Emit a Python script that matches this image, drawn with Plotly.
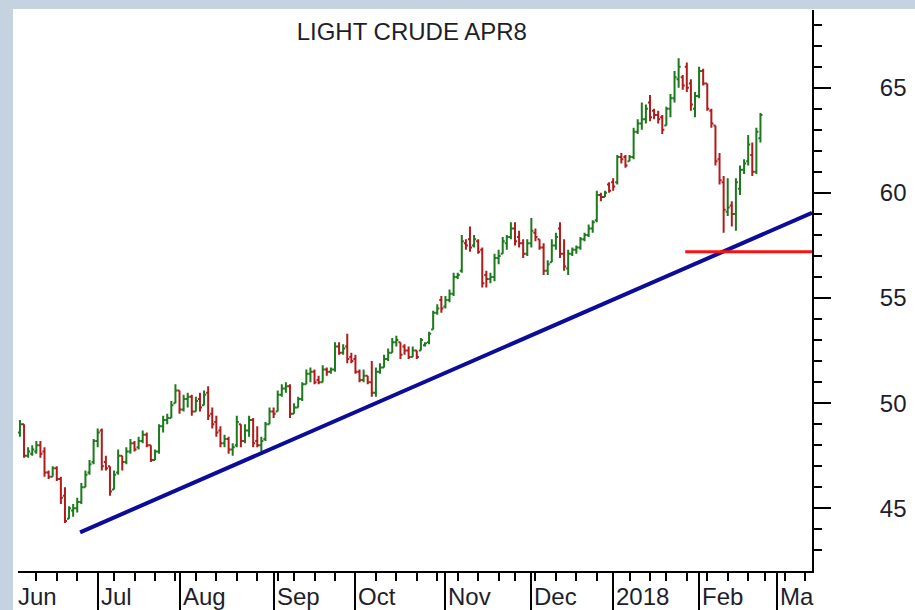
import pandas as pd
import plotly.graph_objects as go

# ---------------- data ----------------
first_date = "2017-06-06"
holidays = ["2017-07-04", "2017-09-04", "2017-11-23", "2017-12-25",
            "2018-01-01", "2018-01-15", "2018-02-19"]

opens = [48.6, 49.0, 47.5, 47.6, 47.7, 48.0, 47.7, 46.7, 46.5, 46.9,
         46.4, 45.6, 44.5, 44.9, 45.0, 45.3, 46.0, 46.7, 47.2, 48.2,
         48.7, 47.2, 47.0, 45.9, 46.7, 47.5, 47.2, 47.7, 48.1, 47.9,
         48.2, 48.5, 48.0, 47.3, 47.7, 48.9, 49.2, 49.3, 50.0, 50.6,
         49.7, 50.2, 50.3, 49.6, 50.2, 49.9, 50.5, 49.5, 49.1, 48.7,
         48.1, 48.3, 47.8, 48.0, 49.0, 48.2, 48.7, 49.2, 48.2, 48.0,
         48.3, 49.0, 49.6, 49.6, 50.4, 50.7, 50.8, 49.5, 49.8, 50.2,
         50.9, 51.4, 51.5, 51.1, 51.0, 51.6, 51.5, 51.6, 52.7, 52.4,
         52.7, 52.2, 52.1, 51.5, 51.1, 51.3, 51.0, 50.5, 51.5, 51.7,
         52.1, 52.4, 52.9, 52.9, 52.7, 52.5, 52.2, 52.5, 52.5, 52.75,
         52.9, 53.5, 54.3, 54.9, 54.6, 54.9, 55.2, 56.0, 56.3, 57.6,
         57.8, 57.5, 57.7, 57.3, 56.1, 55.9, 56.0, 56.9, 57.1, 57.6,
         57.9, 58.3, 57.9, 57.6, 57.1, 57.6, 58.1, 57.8, 57.4, 56.3,
         56.7, 57.5, 58.3, 57.1, 56.4, 57.1, 57.3, 57.4, 57.8, 58.0,
         58.3, 58.7, 59.9, 59.8, 60.4, 60.5, 60.5, 61.7, 61.7, 61.5,
         61.7, 62.9, 63.3, 63.5, 64.3, 63.9, 63.7, 63.6, 63.2, 64.0,
         64.5, 65.4, 65.5, 66.0, 65.2, 64.0, 64.6, 65.8, 65.2, 63.9,
         63.2, 61.6, 60.5, 59.1, 59.4, 59.0, 60.2, 61.1, 61.5, 61.8,
         61.0, 62.6]
highs = [49.2, 49.0, 47.9, 48.0, 48.2, 48.2, 47.9, 46.8, 47.0, 47.0,
         46.5, 46.0, 45.1, 45.2, 45.5, 46.2, 46.8, 47.3, 48.3, 48.8,
         48.8, 47.5, 47.0, 46.8, 47.8, 47.5, 47.9, 48.3, 48.2, 48.4,
         48.7, 48.6, 48.0, 47.8, 49.0, 49.4, 49.5, 50.1, 50.9, 50.6,
         50.4, 50.5, 50.4, 50.3, 50.5, 50.6, 50.8, 49.8, 49.4, 48.9,
         48.5, 48.4, 48.1, 49.4, 49.0, 49.0, 49.4, 49.3, 48.9, 48.4,
         49.1, 49.8, 49.8, 50.6, 50.9, 51.0, 50.9, 50.0, 50.3, 51.0,
         51.6, 51.7, 51.6, 51.3, 51.8, 51.7, 51.7, 52.9, 52.9, 52.8,
         53.3, 52.4, 52.3, 51.6, 51.6, 51.3, 52.0, 51.7, 51.9, 52.3,
         52.6, 53.1, 53.2, 52.9, 52.8, 52.7, 52.7, 52.5, 53.1, 52.9,
         53.4, 54.4, 54.7, 55.1, 55.1, 55.4, 56.2, 56.2, 58.0, 57.8,
         58.4, 58.0, 57.8, 57.4, 56.3, 56.2, 57.1, 57.3, 57.9, 58.0,
         58.6, 58.6, 58.2, 57.8, 57.8, 58.8, 58.3, 57.8, 57.6, 56.8,
         57.8, 58.1, 58.6, 57.8, 57.3, 57.4, 57.5, 57.9, 58.1, 58.5,
         58.7, 60.1, 60.0, 60.1, 60.5, 60.7, 61.8, 61.9, 61.8, 61.8,
         63.1, 63.5, 64.3, 64.2, 64.65, 64.0, 63.9, 63.7, 64.1, 64.7,
         65.8, 66.4, 65.6, 66.2, 65.4, 64.8, 66.0, 65.9, 65.2, 64.0,
         63.2, 61.9, 60.8, 60.7, 59.6, 60.7, 61.3, 61.6, 62.75, 62.4,
         63.1, 63.8]
lows = [48.4, 47.4, 47.4, 47.5, 47.6, 47.4, 46.5, 46.4, 46.5, 46.3,
        45.2, 44.3, 44.5, 44.6, 44.8, 45.2, 46.0, 46.6, 47.1, 47.9,
        46.8, 46.8, 45.6, 45.9, 46.6, 46.8, 47.1, 47.6, 47.7, 47.8,
        48.1, 47.9, 47.2, 47.3, 47.6, 48.6, 49.0, 49.3, 50.0, 49.5,
        49.6, 49.8, 49.4, 49.6, 49.6, 49.9, 49.2, 48.8, 48.4, 47.9,
        47.9, 47.6, 47.5, 47.9, 47.9, 48.1, 48.4, 47.9, 47.9, 47.7,
        48.2, 49.0, 49.3, 49.6, 50.3, 50.5, 49.3, 49.5, 49.8, 50.1,
        50.9, 51.0, 50.9, 50.9, 51.0, 51.3, 51.4, 51.5, 52.3, 52.3,
        51.9, 51.9, 51.4, 51.0, 51.0, 50.9, 50.3, 50.3, 51.4, 51.7,
        52.0, 52.4, 52.7, 52.1, 52.3, 52.1, 52.2, 52.1, 52.5, 52.7,
        52.8, 53.5, 54.2, 54.3, 54.5, 54.8, 55.1, 55.9, 56.2, 57.3,
        57.2, 57.4, 57.1, 55.5, 55.5, 55.7, 55.8, 56.6, 57.1, 57.3,
        57.8, 57.5, 57.4, 56.9, 57.0, 57.4, 57.7, 57.3, 56.1, 56.1,
        56.7, 57.3, 56.9, 56.3, 56.1, 57.0, 57.1, 57.3, 57.7, 57.9,
        58.1, 58.6, 59.6, 59.8, 60.0, 60.1, 60.4, 61.4, 61.2, 61.5,
        61.6, 62.8, 63.0, 63.3, 63.4, 63.5, 63.3, 62.8, 63.2, 63.6,
        64.3, 65.0, 64.9, 64.8, 63.9, 63.6, 64.5, 65.1, 63.9, 63.1,
        61.3, 60.4, 58.1, 58.9, 58.4, 58.2, 59.9, 60.9, 61.3, 60.8,
        60.9, 62.4]
closes = [49.0, 47.5, 47.7, 47.8, 48.0, 47.6, 46.7, 46.5, 46.9, 46.4,
          45.5, 44.4, 45.0, 45.0, 45.3, 46.0, 46.6, 47.1, 48.2, 48.6,
          47.0, 46.9, 45.8, 46.6, 47.5, 47.2, 47.7, 48.1, 47.8, 48.2,
          48.5, 48.0, 47.3, 47.7, 48.9, 49.2, 49.3, 49.9, 50.6, 49.7,
          50.2, 50.3, 49.6, 50.1, 49.8, 50.4, 49.4, 49.0, 48.6, 48.1,
          48.3, 47.8, 47.9, 49.1, 48.2, 48.7, 49.2, 48.1, 48.0, 48.2,
          49.0, 49.6, 49.5, 50.4, 50.7, 50.8, 49.5, 49.8, 50.2, 50.9,
          51.4, 51.5, 51.0, 51.0, 51.6, 51.5, 51.6, 52.7, 52.4, 52.6,
          52.1, 52.0, 51.5, 51.1, 51.3, 51.0, 50.5, 51.5, 51.7, 52.1,
          52.4, 52.9, 53.0, 52.3, 52.5, 52.2, 52.5, 52.2, 53.0, 52.85,
          53.3, 54.3, 54.5, 54.5, 54.9, 55.2, 56.0, 56.1, 57.7, 57.5,
          57.4, 57.8, 57.2, 55.7, 55.9, 56.0, 56.9, 57.0, 57.7, 57.9,
          58.3, 57.7, 57.6, 57.1, 57.6, 58.2, 57.9, 57.4, 56.3, 56.6,
          57.5, 57.9, 57.1, 56.5, 57.1, 57.3, 57.4, 57.8, 58.0, 58.3,
          58.6, 59.9, 59.8, 60.0, 60.1, 60.3, 61.7, 61.6, 61.3, 61.7,
          62.9, 63.3, 63.5, 64.0, 63.6, 63.7, 63.5, 63.0, 64.0, 64.5,
          65.5, 66.0, 65.1, 65.0, 64.2, 64.6, 65.8, 65.2, 64.0, 63.3,
          61.5, 60.6, 59.2, 59.3, 59.0, 60.5, 61.1, 61.4, 62.3, 61.0,
          62.9, 63.7]

trend_days = [17.7, 196.6]          # trading-day positions of the trend line ends
trend_prices = [43.86, 59.05]
support_days = [165.6, 196.6]
support_price = 57.2

month_labels = ["Jun", "Jul", "Aug", "Sep", "Oct", "Nov", "Dec", "2018", "Feb", "Ma"]
y_ticks = [45, 50, 55, 60, 65]
title_text = "LIGHT CRUDE APR8"

# ---------------- trading-day calendar ----------------
cal = [d for d in pd.bdate_range("2017-06-01", "2018-03-16")
       if d.strftime("%Y-%m-%d") not in holidays]
start = [d.strftime("%Y-%m-%d") for d in cal].index(first_date)
xs = list(range(start, start + len(closes)))

month_pos, week_pos = [], []
for i, d in enumerate(cal):
    if i == 0 or d.month != cal[i - 1].month:
        month_pos.append(i)
    elif d.isocalendar()[1] != cal[i - 1].isocalendar()[1]:
        week_pos.append(i)

FONT = "Liberation Sans, Arial, sans-serif"
TXT = "#1e1e2a"

fig = go.Figure()
fig.add_trace(go.Ohlc(
    x=xs, open=opens, high=highs, low=lows, close=closes,
    increasing=dict(line=dict(color="#1c7a1c", width=2)),
    decreasing=dict(line=dict(color="#b01c1c", width=2)),
    tickwidth=0.5, showlegend=False, hoverinfo="skip"))
fig.add_trace(go.Scatter(x=trend_days, y=trend_prices, mode="lines",
                         line=dict(color="#0c0c9a", width=4),
                         showlegend=False, hoverinfo="skip"))
fig.add_trace(go.Scatter(x=support_days, y=[support_price] * 2, mode="lines",
                         line=dict(color="#ff1010", width=3),
                         showlegend=False, hoverinfo="skip"))

annotations = []
for k, lab in enumerate(month_labels):
    if k == 0:
        annotations.append(dict(x=0, xref="paper", y=0, yref="paper", text=lab,
                                showarrow=False, xanchor="left", yanchor="middle",
                                xshift=-2, yshift=-25,
                                font=dict(family=FONT, size=24, color=TXT)))
    else:
        annotations.append(dict(x=month_pos[k], xref="x", y=0, yref="paper", text=lab,
                                showarrow=False, xanchor="left", yanchor="middle",
                                xshift=1, yshift=-25,
                                font=dict(family=FONT, size=24, color=TXT)))

fig.update_layout(
    width=915, height=610,
    margin=dict(l=18, r=103, t=10, b=39, pad=0),
    paper_bgcolor="#c5d3e1", plot_bgcolor="white",
    title=dict(text=title_text, x=0.496, xref="paper", xanchor="center",
               y=1 - 32 / 610, yref="container", yanchor="middle",
               font=dict(family=FONT, size=24, color=TXT)),
    xaxis=dict(range=[2.52, 196.6], showgrid=False, zeroline=False,
               showline=True, linecolor="black", linewidth=2,
               tickmode="array", tickvals=month_pos[1:], showticklabels=False,
               ticks="outside", ticklen=39, tickwidth=2, tickcolor="black",
               minor=dict(tickmode="array", tickvals=week_pos, ticks="outside",
                          ticklen=8, tickwidth=2, tickcolor="black"),
               rangeslider=dict(visible=False), automargin=False, fixedrange=True),
    yaxis=dict(range=[42.02, 68.695], side="right", showgrid=False, zeroline=False,
               showline=True, linecolor="black", linewidth=2,
               tickmode="array", tickvals=y_ticks,
               ticks="outside", ticklen=17, tickwidth=2, tickcolor="black",
               minor=dict(dtick=1, tick0=0, ticks="outside", ticklen=8,
                          tickwidth=2, tickcolor="black"),
               tickfont=dict(family=FONT, size=24, color=TXT),
               ticklabelstandoff=44, automargin=False, fixedrange=True),
    shapes=[dict(type="rect", xref="paper", yref="paper",
                 x0=-5 / 794, x1=1.2, y0=-0.2, y1=1 + 1 / 561,
                 fillcolor="white", line=dict(width=0), layer="below")],
    annotations=annotations,
)

fig.write_html("out.html", config={"displayModeBar": False},
               post_script="document.body.style.margin='0';document.body.style.overflow='hidden';")
